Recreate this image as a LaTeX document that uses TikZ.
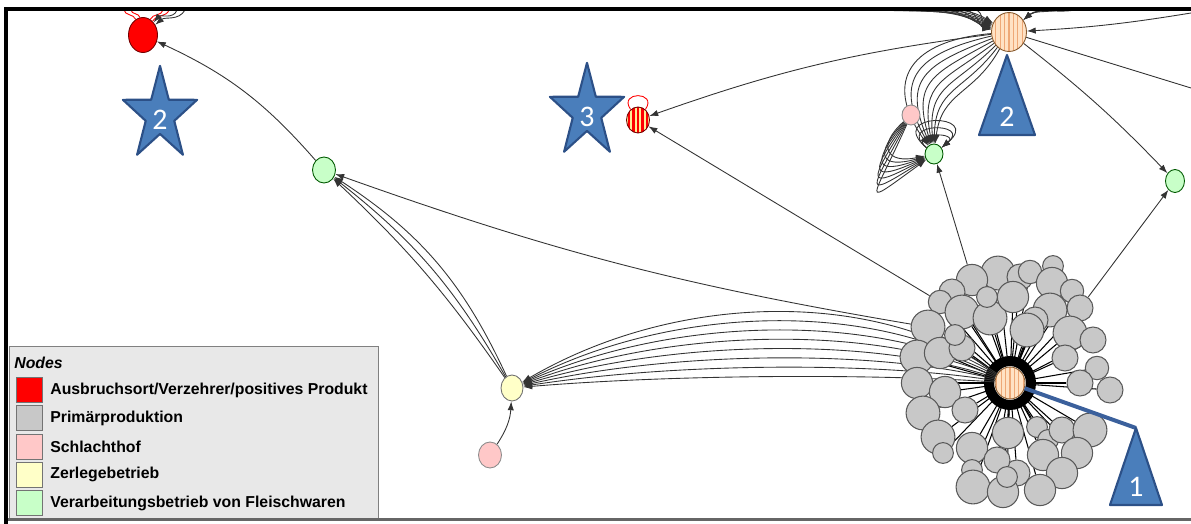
\documentclass[tikz,border=0pt]{standalone}
\usepackage{fontspec}
\setmainfont{Liberation Sans}
\newfontfamily\markerfont{Carlito}
\usetikzlibrary{shapes.geometric, arrows.meta, backgrounds}

\definecolor{outbreakred}{RGB}{255,0,0}
\definecolor{farmgray}{RGB}{200,200,200}
\definecolor{slaughterpink}{RGB}{255,200,200}
\definecolor{cuttingyellow}{RGB}{255,255,200}
\definecolor{processgreen}{RGB}{200,255,200}
\definecolor{hubpeach}{RGB}{255,226,196}
\definecolor{hubstripe}{RGB}{238,168,118}
\definecolor{stripeyellow}{RGB}{255,236,150}
\definecolor{markerblue}{RGB}{74,126,187}
\definecolor{markeredge}{RGB}{44,80,135}
\definecolor{markerline}{RGB}{59,96,156}
\definecolor{legendgray}{RGB}{232,232,232}

\begin{document}
\begin{tikzpicture}[
  x=0.02cm, y=0.02cm,
  >={Latex[length=5pt,width=3.6pt]},
  station/.style={ellipse, draw=black!65, line width=0.5pt, inner sep=0pt},
  outbreak/.style={station, fill=outbreakred, draw=red!45!black},
  farm/.style={circle, draw=black!65, fill=farmgray, line width=0.6pt, inner sep=0pt},
  slaughter/.style={station, fill=slaughterpink, draw=black!45},
  cutting/.style={station, fill=cuttingyellow, draw=black!55},
  process/.style={station, fill=processgreen, draw=green!35!black},
  hub/.style={station, fill=hubpeach, draw=brown!70!black,
    path picture={\foreach \d in {-7.5,-5,...,7.5}
      \draw[hubstripe, line width=0.6pt] ([xshift=\d pt]path picture bounding box.south) -- ([xshift=\d pt]path picture bounding box.north);}},
  redstripes/.style={station, fill=stripeyellow, draw=red!45!black,
    path picture={\foreach \d in {-5.2,-2.6,...,5.3}
      \draw[red, line width=1.3pt] ([xshift=\d pt]path picture bounding box.south) -- ([xshift=\d pt]path picture bounding box.north);}},
  flow/.style={->, draw=black!80, line width=0.5pt},
  spoke/.style={-{Latex[length=4pt,width=3pt]}, black, line width=0.6pt},
  selfloop/.style={draw=red, line width=0.5pt},
  marker/.style={fill=markerblue, draw=markeredge, line width=1.2pt, line join=round},
  markerlabel/.style={text=white, font=\markerfont\fontsize{17}{17}\selectfont, inner sep=0pt},
  legendkey/.style={draw=black!55, minimum width=0.52cm, minimum height=0.5cm, inner sep=0pt},
  legendtext/.style={anchor=west, font=\bfseries\fontsize{9}{9}\selectfont, inner sep=0pt}
]
\useasboundingbox (0,0) rectangle (1191,-524);

% Stations
\node[outbreak, minimum width=0.58cm, minimum height=0.70cm] (A) at (143,-35) {};
\node[process, minimum width=0.46cm, minimum height=0.52cm] (G1) at (324,-170) {};
\node[redstripes, minimum width=0.46cm, minimum height=0.52cm] (S3) at (638,-120) {};
\node[hub, minimum width=0.70cm, minimum height=0.78cm] (H2) at (1009,-32) {};
\node[slaughter, minimum width=0.36cm, minimum height=0.40cm] (P1) at (911,-115) {};
\node[process, minimum width=0.36cm, minimum height=0.40cm] (G2) at (934,-154) {};
\node[process, minimum width=0.38cm, minimum height=0.46cm] (G3) at (1175,-181) {};
\node[cutting, minimum width=0.44cm, minimum height=0.52cm] (Y) at (512,-388) {};
\node[slaughter, minimum width=0.46cm, minimum height=0.52cm] (P2) at (490,-455) {};
\node[hub, minimum width=0.60cm, minimum height=0.64cm] (hub1) at (1010,-383) {};

% Primary production around hub1
\foreach \x/\y/\r [count=\i] in {998/273/13, 972/280/12, 1020/277/10, 1030/272/9, 1053/266/8,
  1052/283/12, 1072/291/9, 1080/308/10, 1050/310/13, 1035/320/10, 952/292/10, 940/302/9,
  962/312/13, 990/318/13, 1013/297/12, 987/297/8, 928/327/13, 1027/330/13, 1070/333/13,
  1093/340/10, 917/357/13, 940/353/12, 962/348/10, 955/335/8, 1065/358/10, 1097/368/9,
  1110/390/10, 1080/383/10, 917/383/12, 945/392/12, 923/413/13, 965/410/10, 938/437/13,
  943/453/8, 972/448/12, 1008/433/12, 1037/427/8, 1048/440/8, 1062/430/10, 1090/430/13,
  1077/453/12, 1043/455/12, 1062/473/12, 1017/473/10, 997/460/10, 972/470/8, 973/487/13,
  1003/492/12, 1040/490/12, 1007/477/8}
  \node[farm, minimum size=\r*0.052cm] (p\i) at (\x,-\y) {};

% Free ends at the frame
\coordinate (aloop1) at (124,-10);
\coordinate (aloop2) at (131,-10);
\coordinate (aloop3) at (163,-10);
\coordinate (aloop4) at (169,-10);
\coordinate (ain1) at (177,-10);
\coordinate (ain2) at (185,-10);
\coordinate (rightexit) at (1191,-88);
\coordinate (farright) at (1191,-13);

\begin{scope}[on background layer]
% Deliveries into hub1
\foreach \i in {1,...,50} \draw[spoke] (p\i) -- (hub1);
\draw[line width=0.2cm] (hub1.center) ellipse[x radius=21, y radius=22];

% hub1 to Zerlegebetrieb
\foreach \k in {0,...,7}
  \draw[flow] (hub1) .. controls (880,{-290-12*\k}) and (680,{-290-12*\k}) .. (Y);
\draw[flow] (P2) to[bend right=15] (Y);

% Into G1 and outbreak
\draw[flow] (p17) to[bend left=5] (G1);
\foreach \b in {6,11,16} \draw[flow] (Y) to[bend right=\b] (G1);
\draw[flow] (G1) to[bend right=12] (A);
\draw[selfloop] (A.115) to[out=110, in=-80] (aloop1);
\draw[selfloop] (A.100) to[out=100, in=-85] (aloop2);
\draw[selfloop] (A.65) to[out=70, in=-100] (aloop3);
\draw[selfloop] (A.55) to[out=60, in=-110] (aloop4);
\draw[flow] (ain1) to[out=-110, in=50] (A);
\draw[flow] (ain2) to[out=-120, in=40] (A);

% S3
\draw[flow] (p12) -- (S3);
\draw[flow] (H2) to[bend right=6] (S3);
\draw[selfloop] (S3) to[out=125, in=55, distance=0.45cm] (S3);

% G2
\draw[flow] (p2) -- (G2);
\foreach \k [evaluate=\k as \oa using 185+8*\k, evaluate=\k as \ia using 125-6*\k,
             evaluate=\k as \loose using 1.6-0.06*\k] in {0,...,7}
  \draw[flow] (H2) to[out=\oa, in=\ia, looseness=\loose] (G2);
\foreach \k [evaluate=\k as \oa using 222+4*\k, evaluate=\k as \ia using 192+4*\k,
             evaluate=\k as \loose using 2.4+0.5*\k] in {0,...,6}
  \draw[flow] (P1) to[out=\oa, in=\ia, looseness=\loose] (G2);
\foreach \d in {0.5,0.8,1.1}
  \draw[flow] (G2) to[out=140, in=40, distance=\d cm] (G2);

% G3 and the right side
\draw[flow] (p8) -- (G3);
\draw[flow] (H2) to[bend left=4] (G3);
\draw[draw=black!80, line width=0.5pt] (H2) -- (rightexit);
\draw[flow] (farright) to[bend left=3] (H2);

% Fans into H2 from above
\foreach \x [evaluate=\x as \ia using 150+(\x-885)/4] in {885,895,...,975} {
  \coordinate (fan\x) at (\x,-10);
  \draw[flow] (fan\x) to[out=-5, in=\ia] (H2);
}
\foreach \x in {1045,1060,1075} {
  \coordinate (fan\x) at (\x,-10);
  \draw[flow] (fan\x) to[out=190, in=40] (H2);
}
\end{scope}

% Markers
\draw[markerline, line width=0.08cm] (hub1) -- (1136,-428) coordinate (tri1apex);
\filldraw[marker] (tri1apex) -- (1162,-505) -- (1110,-505) -- cycle;
\node[markerlabel] (tri1num) at (1136,-487) {1};
\filldraw[marker] (1007,-55) coordinate (tri2apex) -- (1035,-135) -- (979,-135) -- cycle;
\node[markerlabel] (tri2num) at (1007,-117) {2};
\begin{scope}[shift={(160,-115)}, yscale=1.26]
  \filldraw[marker] (90:39) \foreach \a in {1,...,9} {-- ({90+36*\a}:{ifthenelse(isodd(\a),15,39)})} -- cycle;
\end{scope}
\node[markerlabel] (star2num) at (160,-120) {2};
\begin{scope}[shift={(587,-112)}, yscale=1.26]
  \filldraw[marker] (90:39) \foreach \a in {1,...,9} {-- ({90+36*\a}:{ifthenelse(isodd(\a),15,39)})} -- cycle;
\end{scope}
\node[markerlabel] (star3num) at (587,-117) {3};

% Legend
\draw[draw=black!50, fill=legendgray] (9,-346) rectangle (378,-519);
\node[legendtext, font=\bfseries\itshape\fontsize{9}{9}\selectfont] (legendtitle) at (14,-363) {Nodes};
\foreach \c/\t [count=\i] in {outbreakred/{Ausbruchsort/Verzehrer/positives Produkt},
  farmgray/Primärproduktion, slaughterpink/Schlachthof, cuttingyellow/Zerlegebetrieb,
  processgreen/Verarbeitungsbetrieb von Fleischwaren} {
  \node[legendkey, fill=\c] (key\i) at (29,{-390-28.25*(\i-1)}) {};
  \node[legendtext] (entry\i) at (50,{-390-28.25*(\i-1)}) {\t};
}

% Frame
\draw[black!60, line width=0.06cm] (6,-519) -- (1191,-519);
\draw[line width=0.1cm] (6,-524) -- (6,-9) -- (1191,-9);
\end{tikzpicture}
\end{document}
